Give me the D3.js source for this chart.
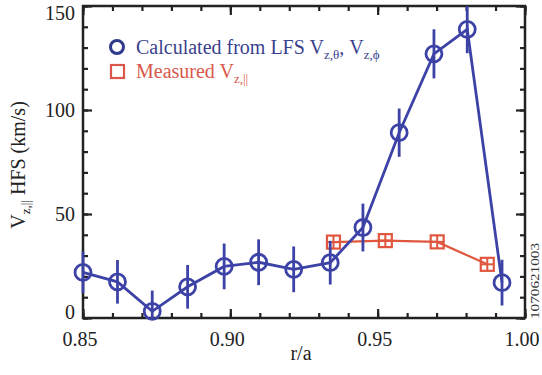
<!DOCTYPE html>
<html><head><meta charset="utf-8"><script src="https://cdn.jsdelivr.net/npm/d3@7"></script></head>
<body style="margin:0">
<script>
// calculated from LFS (blue circles)
const calcR   = [0.850, 0.8617, 0.8735, 0.8855, 0.8979, 0.9096, 0.9215, 0.9339, 0.9450, 0.9573, 0.9691, 0.9804, 0.9922];
const calcV   = [21.9, 17.4, 3.2, 15.0, 24.8, 26.8, 23.4, 26.6, 43.5, 89.1, 127.0, 138.8, 17.0];
const calcErr = [10, 10.5, 10, 10.5, 11, 11, 11, 10.5, 11.5, 11.6, 11.8, 11.5, 11];
// measured (red squares)
const measR   = [0.9350, 0.9526, 0.9702, 0.9872];
const measV   = [36.5, 37.2, 36.6, 25.8];
const measErr = [3, 3, 3, 3];

const xMajor = [0.85, 0.90, 0.95, 1.00];
const yMajor = [0, 50, 100, 150];

const blue = "#3d43a6", red = "#e0573f", ink = "#222";
const fam = '"Liberation Serif"';

const svg = d3.select("body").append("svg").attr("width", 542).attr("height", 375);

const x = d3.scaleLinear().domain([0.85, 1.00]).range([83, 525]);
const y = d3.scaleLinear().domain([0, 150]).range([318, 6]).clamp(true);

// inward ticks on all four sides
const xMinor = d3.range(85, 101).map(d => d / 100);
const yMinor = d3.range(0, 151, 10);
function ticks(axis, tx, ty) {
  svg.append("g").attr("transform", `translate(${tx},${ty})`)
    .call(axis)
    .call(g => g.select(".domain").remove());
}
ticks(d3.axisTop(x).tickValues(xMinor).tickSize(5).tickFormat(""), 0, 318);
ticks(d3.axisTop(x).tickValues(xMajor).tickSize(9).tickFormat(""), 0, 318);
ticks(d3.axisBottom(x).tickValues(xMinor).tickSize(5).tickFormat(""), 0, 6);
ticks(d3.axisBottom(x).tickValues(xMajor).tickSize(9).tickFormat(""), 0, 6);
ticks(d3.axisRight(y).tickValues(yMinor).tickSize(5).tickFormat(""), 83, 0);
ticks(d3.axisRight(y).tickValues(yMajor).tickSize(9).tickFormat(""), 83, 0);
ticks(d3.axisLeft(y).tickValues(yMinor).tickSize(5).tickFormat(""), 525, 0);
ticks(d3.axisLeft(y).tickValues(yMajor).tickSize(9).tickFormat(""), 525, 0);
svg.selectAll(".tick line").attr("stroke", ink).attr("stroke-width", 2.2);

svg.append("rect").attr("x", 83).attr("y", 6).attr("width", 442).attr("height", 312)
  .attr("fill", "none").attr("stroke", ink).attr("stroke-width", 2.5);

// tick labels
svg.selectAll(".xl").data(xMajor).enter().append("text")
  .style("font-family", fam).attr("font-size", 20).attr("fill", ink)
  .attr("x", d => x(d) - 3).attr("y", 346).attr("text-anchor", "middle")
  .text(d => d3.format(".2f")(d));
svg.selectAll(".yl").data(yMajor).enter().append("text")
  .style("font-family", fam).attr("font-size", 20).attr("fill", ink)
  .attr("x", 75).attr("y", d => Math.min(Math.max(y(d), 13), 312) + 7)
  .attr("text-anchor", "end")
  .text(d => d);

// axis titles
svg.append("text").style("font-family", fam).attr("font-size", 20).attr("fill", ink)
  .attr("x", 301).attr("y", 360).attr("text-anchor", "middle").text("r/a");

const yt = svg.append("text").style("font-family", fam).attr("font-size", 20).attr("fill", ink)
  .attr("transform", "translate(25,165) rotate(-90)").attr("text-anchor", "middle");
yt.append("tspan").text("V");
yt.append("tspan").attr("font-size", 13).attr("dy", 5).text("z,||");
yt.append("tspan").attr("dy", -5).text(" HFS (km/s)");

svg.append("text").style("font-family", fam).attr("font-size", 13).attr("fill", "#333")
  .attr("transform", "translate(539,281) rotate(-90)").attr("text-anchor", "middle")
  .attr("textLength", 76).attr("lengthAdjust", "spacingAndGlyphs")
  .text("1070621003");

const calc = calcR.map((r, i) => ({ r, v: calcV[i], e: calcErr[i] }));
const meas = measR.map((r, i) => ({ r, v: measV[i], e: measErr[i] }));
const line = d3.line().x(d => x(d.r)).y(d => y(d.v));

// measured
svg.append("path").datum(meas).attr("d", line)
  .attr("fill", "none").attr("stroke", red).attr("stroke-width", 2.2);
svg.selectAll(".merr").data(meas).enter().append("line")
  .attr("x1", d => x(d.r)).attr("x2", d => x(d.r))
  .attr("y1", d => y(d.v - d.e)).attr("y2", d => y(d.v + d.e))
  .attr("stroke", red).attr("stroke-width", 2);
svg.selectAll(".mhor").data(meas).enter().append("line")
  .attr("x1", d => x(d.r) - 6.5).attr("x2", d => x(d.r) + 6.5)
  .attr("y1", d => y(d.v)).attr("y2", d => y(d.v))
  .attr("stroke", red).attr("stroke-width", 2);
svg.selectAll(".msq").data(meas).enter().append("rect")
  .attr("x", d => x(d.r) - 6.5).attr("y", d => y(d.v) - 6.5)
  .attr("width", 13).attr("height", 13)
  .attr("fill", "none").attr("stroke", red).attr("stroke-width", 2.2);

// calculated
svg.append("path").datum(calc).attr("d", line)
  .attr("fill", "none").attr("stroke", blue).attr("stroke-width", 2.8);
svg.selectAll(".cerr").data(calc).enter().append("line")
  .attr("x1", d => x(d.r)).attr("x2", d => x(d.r))
  .attr("y1", d => y(d.v - d.e)).attr("y2", d => y(d.v + d.e))
  .attr("stroke", blue).attr("stroke-width", 2.8);
svg.selectAll(".ccir").data(calc).enter().append("circle")
  .attr("cx", d => x(d.r)).attr("cy", d => y(d.v)).attr("r", 8)
  .attr("fill", "none").attr("stroke", blue).attr("stroke-width", 2.8);

// legend
svg.append("circle").attr("cx", 117).attr("cy", 47).attr("r", 6.5)
  .attr("fill", "none").attr("stroke", "#2f3a8c").attr("stroke-width", 3);
const t1 = svg.append("text").style("font-family", fam).attr("font-size", 20).attr("fill", "#3a3f8e")
  .attr("x", 136).attr("y", 54);
t1.append("tspan").text("Calculated from LFS V");
t1.append("tspan").attr("font-size", 13).attr("dy", 5).text("z,θ");
t1.append("tspan").attr("dy", -5).text(", V");
t1.append("tspan").attr("font-size", 13).attr("dy", 5).text("z,ϕ");

svg.append("rect").attr("x", 111).attr("y", 65).attr("width", 13).attr("height", 13)
  .attr("fill", "none").attr("stroke", "#d9584b").attr("stroke-width", 2.2);
const t2 = svg.append("text").style("font-family", fam).attr("font-size", 20).attr("fill", "#d9584b")
  .attr("x", 136).attr("y", 78);
t2.append("tspan").text("Measured V");
t2.append("tspan").attr("font-size", 13).attr("dy", 5).text("z,||");
</script>
</body></html>
